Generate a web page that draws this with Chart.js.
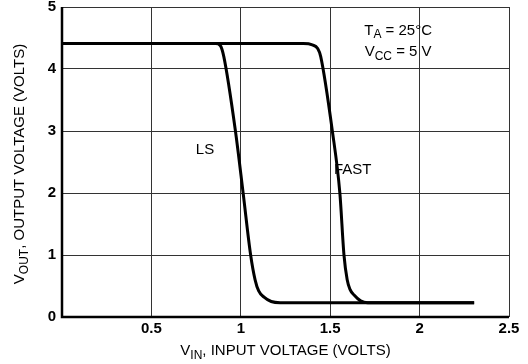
<!DOCTYPE html>
<html>
<head>
<meta charset="utf-8">
<script src="https://cdn.jsdelivr.net/npm/chart.js@4"></script>
<style>
  html, body { margin: 0; padding: 0; background: #fff; }
  #wrap { width: 528px; height: 364px; }
</style>
</head>
<body>
<div id="wrap"><canvas id="chart" width="528" height="364"></canvas></div>
<script>
const FONT = "'Liberation Sans Narrow', 'Arial Narrow', 'Liberation Sans', Arial, sans-serif"

// input voltage (V) / output voltage (V)
const lsVin  = [0, 0.86, 0.885, 0.905, 0.97, 1.013, 1.055, 1.08, 1.10, 1.13, 1.17, 1.22, 2.305]
const lsVout = [4.41, 4.41, 4.38, 4.2, 3.0, 2.0, 1.0, 0.6, 0.42, 0.32, 0.25, 0.23, 0.23]

const fastVin  = [0, 1.35, 1.40, 1.43, 1.447, 1.512, 1.554, 1.577, 1.595, 1.61, 1.635, 1.67, 1.71, 2.305]
const fastVout = [4.41, 4.41, 4.39, 4.33, 4.2, 3.0, 2.0, 1.0, 0.6, 0.45, 0.35, 0.26, 0.23, 0.23]

const xTicks = [0, 0.5, 1, 1.5, 2, 2.5]
const yTicks = [0, 1, 2, 3, 4, 5]

// curve labels: [text, x, y]
const curveLabels = [['LS', 0.80, 2.70], ['FAST', 1.626, 2.37]]

const toPoints = (xs, ys) => xs.map((x, i) => ({ x: x, y: ys[i] }))

// draws text with a subscript part: [main, sub, rest]
function drawSub(c, parts, x, y, size, align) {
    const [main, sub, rest] = parts
    const f = size + 'px ' + FONT
    const fs = Math.round(size * 0.8) + 'px ' + FONT
    c.font = f
    const w1 = c.measureText(main).width
    c.font = fs
    const w2 = c.measureText(sub).width
    c.font = f
    const w3 = c.measureText(rest).width
    const total = w1 + w2 + w3
    let sx = align === 'center' ? x - total / 2 : x
    c.textAlign = 'left'
    c.textBaseline = 'middle'
    c.fillText(main, sx, y)
    c.font = fs
    c.fillText(sub, sx + w1, y + size * 0.3)
    c.font = f
    c.fillText(rest, sx + w1 + w2, y)
}

const textPlugin = {
    id: 'texts',
    afterDraw(chart) {
        const c = chart.ctx
        const xs = chart.scales.x
        const ys = chart.scales.y
        const area = chart.chartArea
        c.save()
        c.fillStyle = '#000'

        curveLabels.forEach(([t, x, y]) => {
            c.font = '15px ' + FONT
            c.textAlign = 'center'
            c.textBaseline = 'middle'
            c.fillText(t, xs.getPixelForValue(x), ys.getPixelForValue(y))
        })

        drawSub(c, ['T', 'A', ' = 25°C'], xs.getPixelForValue(1.88), ys.getPixelForValue(4.62), 15, 'center')
        drawSub(c, ['V', 'CC', ' = 5 V'], xs.getPixelForValue(1.88), ys.getPixelForValue(4.27), 15, 'center')

        // x axis title
        drawSub(c, ['V', 'IN', ', INPUT VOLTAGE (VOLTS)'], (area.left + area.right) / 2, 351, 15, 'center')

        // y axis title, rotated
        c.translate(20, (area.top + area.bottom) / 2 + 2)
        c.rotate(-Math.PI / 2)
        drawSub(c, ['V', 'OUT', ', OUTPUT VOLTAGE (VOLTS)'], 0, 0, 15, 'center')
        c.restore()

        // heavy left and bottom axis lines
        c.save()
        c.strokeStyle = '#000'
        c.lineWidth = 2.5
        c.beginPath()
        c.moveTo(area.left, area.top)
        c.lineTo(area.left, area.bottom)
        c.lineTo(area.right, area.bottom)
        c.stroke()
        c.restore()
    }
}

const lineStyle = {
    showLine: true,
    borderColor: '#000',
    borderWidth: 3,
    pointRadius: 0,
    cubicInterpolationMode: 'monotone',
    fill: false
}

const ctx = document.getElementById('chart').getContext('2d')

const chart = new Chart(ctx, {
    type: 'scatter',
    data: {
        datasets: [
            Object.assign({ label: 'LS', data: toPoints(lsVin, lsVout) }, lineStyle),
            Object.assign({ label: 'FAST', data: toPoints(fastVin, fastVout) }, lineStyle)
        ]
    },
    options: {
        responsive: false,
        animation: false,
        layout: { padding: { top: 7, right: 19, left: 0, bottom: 0 } },
        plugins: {
            legend: { display: false },
            tooltip: { enabled: false }
        },
        scales: {
            x: {
                type: 'linear',
                min: 0,
                max: 2.5,
                afterBuildTicks: s => { s.ticks = xTicks.map(v => ({ value: v })) },
                afterFit: s => { s.height = 47 },
                ticks: {
                    color: '#000',
                    padding: 3,
                    maxRotation: 0,
                    font: { family: FONT, size: 15, weight: 'bold' },
                    callback: v => v === 0 ? '' : String(v)
                },
                grid: { color: '#333', lineWidth: 1, drawTicks: false },
                border: { display: false }
            },
            y: {
                min: 0,
                max: 5,
                afterBuildTicks: s => { s.ticks = yTicks.map(v => ({ value: v })) },
                afterFit: s => { s.width = 62; s.paddingTop = 0; s.paddingBottom = 0 },
                ticks: {
                    color: '#000',
                    padding: 6,
                    font: { family: FONT, size: 15, weight: 'bold' }
                },
                grid: { color: '#333', lineWidth: 1, drawTicks: false },
                border: { display: false }
            }
        }
    },
    plugins: [textPlugin]
})
</script>
</body>
</html>
